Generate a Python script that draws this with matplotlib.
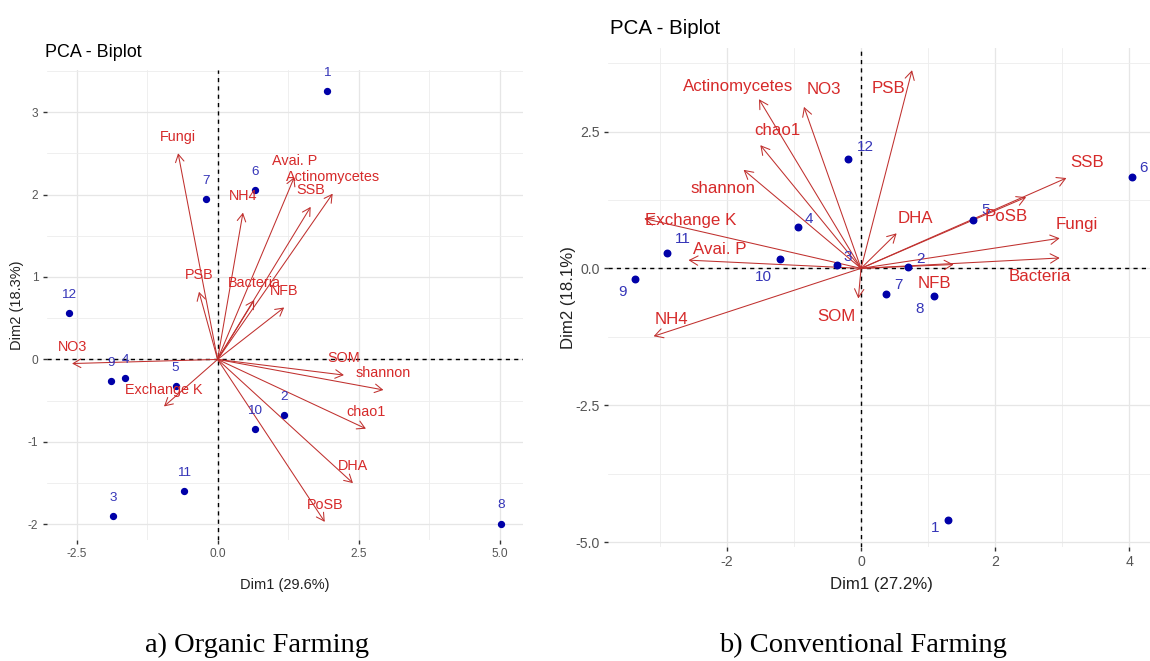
import matplotlib
matplotlib.use("Agg")
import matplotlib.pyplot as plt
from matplotlib import font_manager
from matplotlib.ticker import MultipleLocator

# ---- a) Organic farming ----
org_ids = ['1', '2', '3', '4', '5', '6', '7', '8', '9', '10', '11', '12']
org_x = [1.94, 1.18, -1.85, -1.64, -0.745, 0.67, -0.21, 5.03, -1.89, 0.66, -0.59, -2.64]
org_y = [3.25, -0.68, -1.90, -0.23, -0.32, 2.05, 1.94, -1.99, -0.26, -0.845, -1.60, 0.565]

org_vars = ['Fungi', 'NH4', 'PSB', 'Bacteria', 'NFB', 'Avai. P', 'Actinomycetes', 'SSB',
            'SOM', 'shannon', 'chao1', 'DHA', 'PoSB', 'NO3', 'Exchange K']
org_vx = [-0.70, 0.45, -0.33, 0.65, 1.18, 1.36, 2.04, 1.65,
          2.24, 2.94, 2.63, 2.40, 1.90, -2.58, -0.95]
org_vy = [2.50, 1.78, 0.82, 0.72, 0.63, 2.21, 2.01, 1.85,
          -0.19, -0.37, -0.84, -1.50, -1.97, -0.05, -0.57]

# ---- b) Conventional farming ----
con_ids = ['1', '2', '3', '4', '5', '6', '7', '8', '9', '10', '11', '12']
con_x = [1.30, 0.70, -0.36, -0.94, 1.67, 4.03, 0.37, 1.08, -3.37, -1.20, -2.89, -0.20]
con_y = [-4.60, 0.03, 0.07, 0.755, 0.88, 1.66, -0.475, -0.51, -0.20, 0.18, 0.285, 2.00]
# repelled label positions
con_lx = [1.10, 0.88, -0.20, -0.77, 1.85, 4.21, 0.56, 0.88, -3.56, -1.45, -2.65, 0.07]
con_ly = [-4.75, 0.18, 0.20, 0.90, 1.07, 1.83, -0.31, -0.75, -0.43, -0.15, 0.53, 2.22]

con_vars = ['PSB', 'Actinomycetes', 'NO3', 'chao1', 'shannon', 'Exchange K', 'Avai. P', 'NH4',
            'SOM', 'DHA', 'SSB', 'PoSB', 'Fungi', 'Bacteria', 'NFB']
con_vx = [0.76, -1.52, -0.85, -1.50, -1.75, -3.23, -2.57, -3.09,
          -0.04, 0.53, 3.06, 2.46, 2.96, 2.96, 1.38]
con_vy = [3.62, 3.09, 2.95, 2.25, 1.80, 0.91, 0.15, -1.24,
          -0.55, 0.64, 1.65, 1.30, 0.55, 0.19, 0.07]
con_vlx = [0.41, -1.83, -0.56, -1.25, -2.06, -2.54, -2.11, -2.82,
           -0.36, 0.81, 3.37, 2.17, 3.22, 2.66, 1.10]
con_vly = [3.29, 3.32, 3.26, 2.52, 1.45, 0.88, 0.35, -0.93,
           -0.88, 0.91, 1.93, 0.94, 0.81, -0.15, -0.27]

# the reference text is a bit condensed; use the narrow face when it is there
names = {f.name for f in font_manager.fontManager.ttflist}
if 'Liberation Sans Narrow' in names:
    plt.rcParams['font.family'] = ['Liberation Sans Narrow', 'DejaVu Sans']
    K = 1.1
else:
    plt.rcParams['font.family'] = ['Liberation Sans', 'DejaVu Sans']
    K = 1.0

VAR_COL = '#D62A2A'
ARR_COL = '#C0302E'
PT_COL = '#0000A8'
PT_LAB = '#3535B8'

W, H = 1150, 661
fig = plt.figure(figsize=(W / 100, H / 100), dpi=100)


def px_axes(l, r, t, b):
    return fig.add_axes([l / W, 1 - b / H, (r - l) / W, (b - t) / H])


def style(ax, xmaj, ymaj, tick_fs):
    ax.set_facecolor('white')
    for s in ax.spines.values():
        s.set_visible(False)
    ax.xaxis.set_major_locator(MultipleLocator(xmaj))
    ax.yaxis.set_major_locator(MultipleLocator(ymaj))
    ax.xaxis.set_minor_locator(MultipleLocator(xmaj / 2))
    ax.yaxis.set_minor_locator(MultipleLocator(ymaj / 2))
    ax.grid(which='major', color='#E6E6E6', lw=0.9)
    ax.grid(which='minor', color='#EDEDED', lw=0.6)
    ax.set_axisbelow(True)
    ax.tick_params(which='major', length=3, width=1, color='#333333',
                   labelcolor='#555555', labelsize=tick_fs * K, pad=3)
    ax.tick_params(which='minor', length=0)
    ax.axhline(0, color='black', lw=1, ls=(0, (3, 3)), zorder=1)
    ax.axvline(0, color='black', lw=1, ls=(0, (3, 3)), zorder=1)


def arrows(ax, vx, vy, ms):
    for x, y in zip(vx, vy):
        ax.annotate('', xy=(x, y), xytext=(0, 0),
                    arrowprops=dict(arrowstyle='->,head_length=0.5,head_width=0.28',
                                    color=ARR_COL, lw=0.75, shrinkA=0, shrinkB=0,
                                    mutation_scale=ms), zorder=3)


# left panel
ax1 = px_axes(46.7, 522.7, 70, 540)
ax1.set_xlim(-3.03, 5.41)
ax1.set_ylim(-2.19, 3.51)
style(ax1, 2.5, 1, 8.6)
ax1.xaxis.set_major_formatter(lambda v, p: f'{v:.1f}')
ax1.yaxis.set_major_formatter(lambda v, p: f'{v:.0f}')
arrows(ax1, org_vx, org_vy, 11)
ax1.scatter(org_x, org_y, s=18, color=PT_COL, zorder=4)
for lab, x, y in zip(org_ids, org_x, org_y):
    ax1.annotate(lab, (x, y), xytext=(0, 13), textcoords='offset points',
                 ha='center', va='center', color=PT_LAB, fontsize=9.7 * K, zorder=5)
for lab, x, y in zip(org_vars, org_vx, org_vy):
    ax1.annotate(lab, (x, y), xytext=(0, 12), textcoords='offset points',
                 ha='center', va='center', color=VAR_COL, fontsize=10.4 * K, zorder=5)
ax1.set_xlabel('Dim1 (29.6%)', fontsize=10.5 * K, color='#222222')
ax1.set_ylabel('Dim2 (18.3%)', fontsize=10.5 * K, color='#222222')
ax1.xaxis.set_label_coords(0.5, -0.096)
ax1.yaxis.set_label_coords(-0.062, 0.5)
ax1.xaxis.label.set_va('center')
ax1.yaxis.label.set_va('center')

# right panel
ax2 = px_axes(608, 1155, 48.3, 547)
ax2.set_xlim(-3.77, 4.38)
ax2.set_ylim(-5.09, 4.02)
style(ax2, 2, 2.5, 10.2)
ax2.xaxis.set_major_formatter(lambda v, p: f'{v:.0f}')
ax2.yaxis.set_major_formatter(lambda v, p: f'{v:.1f}')
arrows(ax2, con_vx, con_vy, 12)
ax2.scatter(con_x, con_y, s=22, color=PT_COL, zorder=4)
for lab, x, y in zip(con_ids, con_lx, con_ly):
    ax2.text(x, y, lab, ha='center', va='center', color=PT_LAB, fontsize=11 * K, zorder=5)
for lab, x, y in zip(con_vars, con_vlx, con_vly):
    ax2.text(x, y, lab, ha='center', va='center', color=VAR_COL, fontsize=12.2 * K, zorder=5)
ax2.set_xlabel('Dim1 (27.2%)', fontsize=12.1 * K, color='#222222')
ax2.set_ylabel('Dim2 (18.1%)', fontsize=12.1 * K, color='#222222')
ax2.xaxis.set_label_coords(0.5, -0.076)
ax2.yaxis.set_label_coords(-0.073, 0.5)
ax2.xaxis.label.set_va('center')
ax2.yaxis.label.set_va('center')

# titles and captions
fig.text(45 / W, 1 - 57 / H, 'PCA - Biplot', fontsize=12.9 * K, va='baseline', ha='left')
fig.text(610 / W, 1 - 34 / H, 'PCA - Biplot', fontsize=14.8 * K, va='baseline', ha='left')
fig.text(257 / W, 1 - 645 / H, 'a) Organic Farming', fontsize=20.5, ha='center', va='center',
         family=['Liberation Serif', 'DejaVu Serif'])
fig.text(863 / W, 1 - 645 / H, 'b) Conventional Farming', fontsize=20.5, ha='center', va='center',
         family=['Liberation Serif', 'DejaVu Serif'])

fig.savefig('out.png', dpi=100, facecolor='white')
